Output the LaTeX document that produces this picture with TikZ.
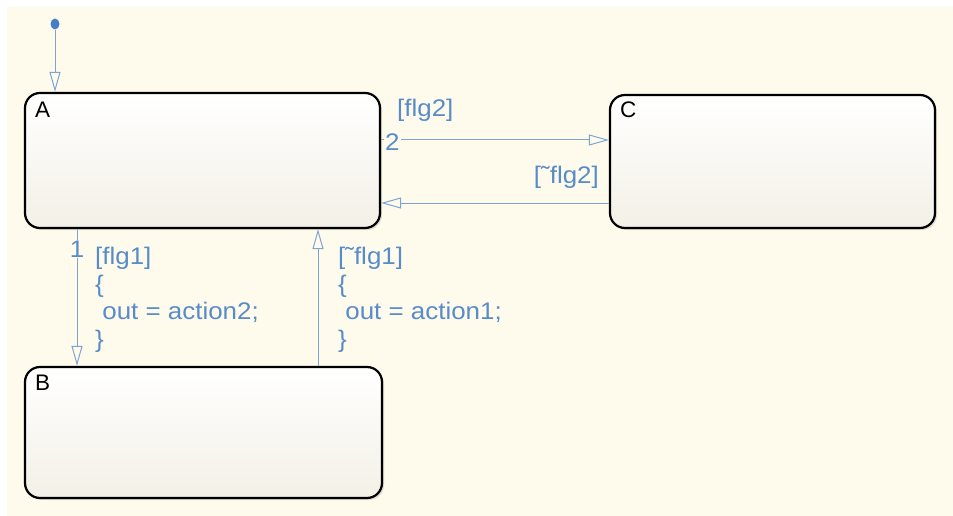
\documentclass[tikz,border=0pt]{standalone}
\usepackage{fontspec}
\setmainfont{Liberation Sans}
\newfontfamily\trfont[FakeStretch=1.08]{Liberation Sans}
\usetikzlibrary{arrows.meta,shadows,calc,shapes.geometric}
\definecolor{bgcream}{RGB}{254,251,236}
\definecolor{trblue}{RGB}{125,165,212}
\definecolor{txtblue}{RGB}{88,140,200}
\definecolor{dotblue}{RGB}{70,125,200}
\definecolor{stbot}{RGB}{243,240,230}
\tikzset{
  x=1pt,y=-1pt,
  stbox/.style={draw=black,line width=2.2pt,rounded corners=15pt,top color=white,bottom color=stbot,
    drop shadow={shadow xshift=2pt,shadow yshift=-2pt,opacity=0.25},inner sep=0pt},
  stname/.style={anchor=north west,inner sep=0pt,font=\fontsize{22.5}{24}\selectfont,text=black},
  trans/.style={draw=trblue,line width=1pt,-{Triangle[open,length=20pt,width=11pt,line width=1pt]}},
  trlab/.style={text=txtblue,inner sep=0pt,align=left,font=\trfont\fontsize{24}{27.5}\selectfont},
  initdot/.style={ellipse,fill=dotblue,minimum width=9pt,minimum height=11pt,inner sep=0pt},
}
\begin{document}
\begin{tikzpicture}
\useasboundingbox (0,0) rectangle (953,516);
\fill[white] (0,0) rectangle (953,516);
\fill[bgcream] (7,7) rectangle (953,516);
% states
\node[stbox,minimum width=355pt,minimum height=135pt] (A) at (202.5,160.5) {};
\node[stbox,minimum width=325pt,minimum height=133pt] (C) at (772.5,161.5) {};
\node[stbox,minimum width=357pt,minimum height=131pt] (B) at (203.5,432.5) {};
\node[stname] (An) at (35,102) {A};
\node[stname] (Cn) at (620,102) {C};
\node[stname] (Bn) at (35,375) {B};
% initial
\node[initdot] (init) at (55,24) {};
\draw[trans] (init) -- (A.north -| init);
% coordinates of connector lines
\coordinate (yac) at (0,140);
\coordinate (yca) at (0,203);
\coordinate (xab) at (77,0);
\coordinate (xba) at (318,0);
\draw[trans] (A.east |- yac) -- (C.west |- yac);
\draw[trans] (C.west |- yca) -- (A.east |- yca);
\draw[trans] (A.south -| xab) -- (B.north -| xab);
\draw[trans] (B.north -| xba) -- (A.south -| xba);
% labels
\node[trlab,anchor=west,fill=bgcream,inner xsep=1pt] (n2) at (384,142) {2};
\node[trlab,anchor=west] (lac) at (397,110) {[flg2]};
\node[trlab,anchor=east] (lca) at (599,177) {[˜flg2]};
\node[trlab,fill=bgcream,inner ysep=1pt,inner xsep=0.5pt] (n1) at (77,249) {1};
\node[trlab,anchor=north west] (lab) at (95,247) {[flg1]\\\{\\\ out = action2;\\\}};
\node[trlab,anchor=north west] (lba) at (338,247) {[˜flg1]\\\{\\\ out = action1;\\\}};
\end{tikzpicture}
\end{document}
